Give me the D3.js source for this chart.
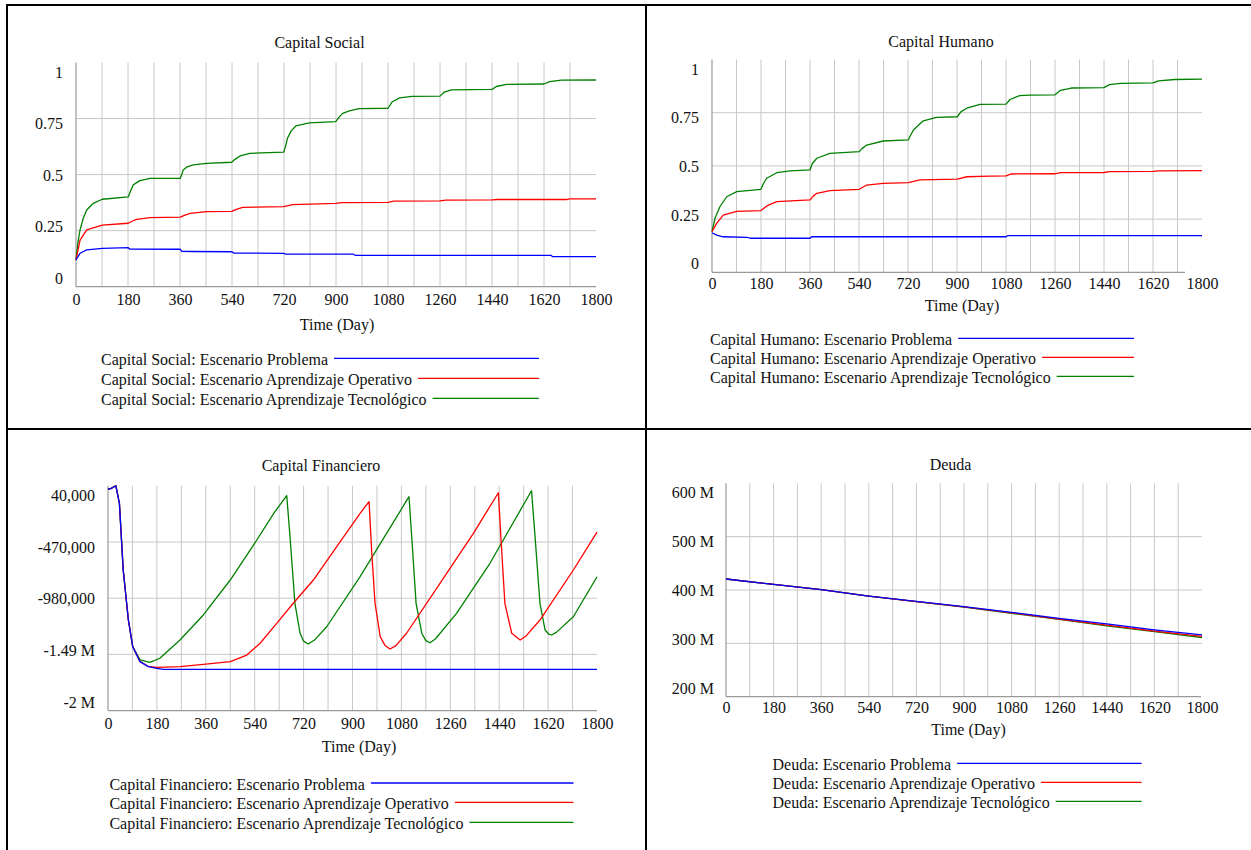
<!DOCTYPE html>
<html>
<head>
<meta charset="utf-8">
<script src="https://cdn.jsdelivr.net/npm/d3@7"></script>
<style>
  html, body { margin: 0; padding: 0; background: #fff; }
  svg text { font-family: "Liberation Serif", "Times New Roman", serif; fill: #111; }
</style>
</head>
<body>
<svg id="chart" width="1251" height="850"></svg>
<script>
// ---------------- DATA ----------------
const xTicks = [0, 180, 360, 540, 720, 900, 1080, 1260, 1440, 1620, 1800];
const gridDays = [90, 180, 270, 360, 450, 540, 630, 720, 810, 900, 990, 1080, 1170, 1260, 1350, 1440, 1530, 1620, 1710];
const scenarioNames = ["Escenario Problema", "Escenario Aprendizaje Operativo", "Escenario Aprendizaje Tecnológico"];
const scenarioColors = ["#0000ff", "#ff0000", "#008000"];

// Capital Social
const socialTicks = [0, 0.25, 0.5, 0.75, 1];
const socialTickLabels = ["0", "0.25", "0.5", "0.75", "1"];
const socialProblema = [[0,0.119],[14,0.149],[37,0.164],[91,0.171],[181,0.174],[186,0.168],[361,0.167],[366,0.158],[406,0.157],[540,0.156],[546,0.150],[719,0.149],[725,0.145],[960,0.145],[966,0.140],[1644,0.140],[1650,0.134],[1800,0.134]];
const socialOperativo = [[0,0.119],[14,0.208],[37,0.253],[91,0.275],[181,0.283],[195,0.293],[210,0.300],[256,0.308],[361,0.310],[375,0.318],[395,0.327],[452,0.335],[539,0.336],[555,0.345],[577,0.354],[719,0.357],[735,0.362],[750,0.366],[899,0.372],[920,0.375],[1080,0.376],[1100,0.382],[1260,0.383],[1280,0.386],[1440,0.387],[1460,0.389],[1700,0.389],[1710,0.392],[1800,0.392]];
const socialTecnologico = [[0,0.119],[7,0.200],[14,0.253],[25,0.305],[37,0.342],[60,0.372],[91,0.390],[181,0.401],[188,0.425],[198,0.454],[221,0.473],[256,0.483],[361,0.483],[366,0.500],[371,0.520],[385,0.535],[406,0.543],[452,0.550],[539,0.555],[550,0.568],[568,0.583],[602,0.595],[719,0.600],[725,0.625],[732,0.662],[745,0.695],[761,0.717],[808,0.731],[899,0.736],[910,0.755],[923,0.773],[946,0.784],[980,0.794],[1080,0.796],[1095,0.825],[1120,0.842],[1163,0.849],[1260,0.850],[1275,0.868],[1300,0.878],[1440,0.880],[1455,0.893],[1490,0.902],[1620,0.904],[1640,0.915],[1680,0.921],[1800,0.922]];

// Capital Humano
const humanoTicks = [0, 0.25, 0.5, 0.75, 1];
const humanoTickLabels = ["0", "0.25", "0.5", "0.75", "1"];
const humanoProblema = [[0,0.186],[17,0.175],[41,0.167],[130,0.164],[140,0.160],[360,0.160],[366,0.167],[1080,0.167],[1086,0.172],[1800,0.172]];
const humanoOperativo = [[0,0.191],[17,0.230],[41,0.269],[91,0.286],[180,0.290],[201,0.312],[238,0.332],[360,0.340],[372,0.358],[385,0.371],[433,0.384],[541,0.390],[568,0.410],[629,0.418],[721,0.421],[764,0.434],[901,0.438],[936,0.449],[1021,0.452],[1080,0.453],[1100,0.462],[1260,0.463],[1280,0.468],[1440,0.469],[1460,0.473],[1620,0.474],[1640,0.477],[1800,0.478]];
const humanoTecnologico = [[0,0.191],[11,0.254],[29,0.308],[54,0.355],[91,0.379],[180,0.390],[188,0.415],[201,0.442],[238,0.468],[287,0.477],[360,0.481],[368,0.510],[385,0.536],[433,0.559],[541,0.567],[550,0.580],[568,0.598],[629,0.617],[721,0.622],[730,0.645],[740,0.669],[776,0.712],[825,0.728],[901,0.731],[915,0.755],[936,0.771],[984,0.789],[1080,0.790],[1095,0.812],[1130,0.830],[1168,0.833],[1260,0.834],[1280,0.855],[1320,0.866],[1440,0.868],[1460,0.882],[1500,0.888],[1620,0.890],[1640,0.900],[1700,0.906],[1800,0.908]];

// Capital Financiero
const finTicks = [-2000000, -1490000, -980000, -470000, 40000];
const finTickLabels = ["-2 M", "-1.49 M", "-980,000", "-470,000", "40,000"];
const finProblema = [[0,11000],[10,15000],[29,40000],[42,-119000],[56,-724000],[75,-1178000],[91,-1420000],[118,-1556000],[148,-1601000],[179,-1616000],[204,-1625000],[1800,-1625000]];
const finOperativo = [[0,11000],[10,15000],[29,40000],[42,-119000],[56,-724000],[75,-1178000],[91,-1420000],[118,-1556000],[148,-1598000],[179,-1607000],[265,-1601000],[351,-1580000],[450,-1556000],[511,-1496000],[560,-1389000],[621,-1208000],[682,-1026000],[756,-815000],[842,-513000],[928,-210000],[961,-104000],[971,-573000],[983,-1026000],[1002,-1329000],[1020,-1410000],[1038,-1441000],[1060,-1410000],[1099,-1298000],[1222,-845000],[1345,-391000],[1437,-23000],[1446,-422000],[1461,-1026000],[1486,-1298000],[1517,-1359000],[1540,-1320000],[1590,-1178000],[1713,-724000],[1800,-380000]];
const finTecnologico = [[0,11000],[10,15000],[29,40000],[42,-119000],[56,-724000],[75,-1178000],[91,-1420000],[118,-1540000],[154,-1562000],[191,-1525000],[265,-1359000],[351,-1132000],[450,-815000],[536,-497000],[610,-210000],[658,-50000],[670,-422000],[688,-1026000],[707,-1298000],[720,-1370000],[737,-1396000],[760,-1360000],[805,-1239000],[928,-785000],[1108,-59000],[1118,-422000],[1134,-1026000],[1155,-1298000],[1170,-1365000],[1185,-1384000],[1205,-1350000],[1283,-1117000],[1406,-663000],[1559,-4500],[1572,-422000],[1590,-1026000],[1609,-1269000],[1622,-1305000],[1633,-1314000],[1650,-1290000],[1713,-1148000],[1800,-785000]];

// Deuda (millions)
const deudaTicks = [200, 300, 400, 500, 600];
const deudaTickLabels = ["200 M", "300 M", "400 M", "500 M", "600 M"];
const deudaProblema = [[0,420.6],[180,410.5],[360,400.6],[540,388.7],[720,378.6],[900,369.0],[1080,358.2],[1260,346.9],[1440,336.4],[1620,325.1],[1800,315.8]];
const deudaOperativo = [[0,420.6],[180,410.5],[360,400.6],[540,388.7],[720,378.4],[900,368.3],[1080,357.2],[1260,345.5],[1440,334.0],[1620,323.0],[1800,313.0]];
const deudaTecnologico = [[0,420.6],[180,410.5],[360,400.6],[540,388.7],[720,378.2],[900,367.8],[1080,356.3],[1260,344.8],[1440,332.8],[1620,321.8],[1800,311.0]];

// ---------------- LAYOUT ----------------
const FONT = 16;
const FAMILY = '"Liberation Serif", "Times New Roman", serif';
const panels = [
  { title: "Capital Social", prefix: "Capital Social", series: [socialProblema, socialOperativo, socialTecnologico],
    ticks: socialTicks, tickLabels: socialTickLabels,
    plot: {x0: 76, x1: 596, y0: 62.5, y1: 286.7}, axisEnd: 596,
    titlePos: [319.5, 42], xLabelPos: [337, 324], xTickY: 302, yLabelRight: 63,
    legend: {x: 101, ys: [359.3, 379.3, 399.3], lineEnd: 539} },
  { title: "Capital Humano", prefix: "Capital Humano", series: [humanoProblema, humanoOperativo, humanoTecnologico],
    ticks: humanoTicks, tickLabels: humanoTickLabels,
    plot: {x0: 712, x1: 1202, y0: 59.5, y1: 272.3}, axisEnd: 1185,
    titlePos: [941, 41.7], xLabelPos: [962, 305], xTickY: 286.7, yLabelRight: 699,
    legend: {x: 710, ys: [339.3, 358.3, 377.3], lineEnd: 1134} },
  { title: "Capital Financiero", prefix: "Capital Financiero", series: [finProblema, finOperativo, finTecnologico],
    ticks: finTicks, tickLabels: finTickLabels,
    plot: {x0: 108, x1: 597, y0: 485.8, y1: 710.6}, axisEnd: 597,
    titlePos: [321, 465.7], xLabelPos: [359, 746.7], xTickY: 726.7, yLabelRight: 95,
    legend: {x: 109.4, ys: [784, 803.3, 823.3], lineEnd: 573.5} },
  { title: "Deuda", prefix: "Deuda", series: [deudaProblema, deudaOperativo, deudaTecnologico],
    ticks: deudaTicks, tickLabels: deudaTickLabels,
    plot: {x0: 726, x1: 1202, y0: 483.3, y1: 696.7}, axisEnd: 1201,
    titlePos: [950.6, 464.3], xLabelPos: [968.5, 729], xTickY: 710, yLabelRight: 714,
    legend: {x: 772.5, ys: [764.3, 783.3, 802.3], lineEnd: 1141.6} }
];

const svg = d3.select("#chart");

// table borders
const borders = svg.append("g").attr("stroke", "#000").attr("stroke-width", 2);
borders.append("line").attr("x1", 7).attr("x2", 7).attr("y1", 5).attr("y2", 850);
borders.append("line").attr("x1", 6).attr("x2", 1251).attr("y1", 5).attr("y2", 5);
borders.append("line").attr("x1", 646).attr("x2", 646).attr("y1", 5).attr("y2", 850);
borders.append("line").attr("x1", 6).attr("x2", 1251).attr("y1", 429).attr("y2", 429);

panels.forEach(p => {
  const g = svg.append("g");
  const x = d3.scaleLinear().domain([0, 1800]).range([p.plot.x0, p.plot.x1]);
  const y = d3.scaleLinear().domain([p.ticks[0], p.ticks[p.ticks.length - 1]]).range([p.plot.y1, p.plot.y0]);
  // label scale: labels spread slightly inside the plot range (Vensim style)
  const yLab = d3.scaleLinear().domain(y.domain()).range([p.plot.y1 - 9, p.plot.y0 + 9]);

  // gridlines
  g.append("g").selectAll("line").data(gridDays).join("line")
    .attr("x1", d => x(d)).attr("x2", d => x(d))
    .attr("y1", p.plot.y0).attr("y2", p.plot.y1)
    .attr("stroke", "#c8c8c8").attr("stroke-width", 1);
  g.append("g").selectAll("line").data(p.ticks.slice(1, -1)).join("line")
    .attr("x1", p.plot.x0).attr("x2", p.plot.x1)
    .attr("y1", d => y(d)).attr("y2", d => y(d))
    .attr("stroke", "#c8c8c8").attr("stroke-width", 1);

  // axis lines
  g.append("line").attr("x1", p.plot.x0).attr("x2", p.plot.x0).attr("y1", p.plot.y0).attr("y2", p.plot.y1)
    .attr("stroke", "#9a9a9a").attr("stroke-width", 1.2);
  g.append("line").attr("x1", p.plot.x0).attr("x2", p.axisEnd).attr("y1", p.plot.y1).attr("y2", p.plot.y1)
    .attr("stroke", "#9a9a9a").attr("stroke-width", 1.2);

  // x tick labels via axis
  const xa = g.append("g").attr("transform", `translate(0,${p.xTickY - FONT * 0.35 - 3})`)
    .call(d3.axisBottom(x).tickValues(xTicks).tickSize(0).tickPadding(0).tickFormat(d3.format("d")))
    .attr("font-family", FAMILY).attr("font-size", FONT);
  xa.select(".domain").remove();
  xa.selectAll("text").attr("dy", "0.71em").attr("y", 0).attr("fill", "#111");

  // y tick labels via axis
  const ya = g.append("g").attr("transform", `translate(${p.yLabelRight},0)`)
    .call(d3.axisLeft(yLab).tickValues(p.ticks).tickSize(0).tickPadding(0)
      .tickFormat((d, i) => p.tickLabels[i]))
    .attr("font-family", FAMILY).attr("font-size", FONT);
  ya.select(".domain").remove();
  ya.selectAll("text").attr("dy", "0.35em").attr("fill", "#111");

  // lines (blue on top)
  const line = d3.line().x(d => x(d[0])).y(d => y(d[1]));
  [2, 1, 0].forEach(i => {
    g.append("path").datum(p.series[i]).attr("d", line)
      .attr("fill", "none").attr("stroke", scenarioColors[i]).attr("stroke-width", 1.3)
      .attr("stroke-linejoin", "round");
  });

  // title & axis label
  g.append("text").attr("x", p.titlePos[0]).attr("y", p.titlePos[1]).attr("dy", "0.35em")
    .attr("text-anchor", "middle").attr("font-size", FONT).text(p.title);
  g.append("text").attr("x", p.xLabelPos[0]).attr("y", p.xLabelPos[1]).attr("dy", "0.35em")
    .attr("text-anchor", "middle").attr("font-size", FONT).text("Time (Day)");

  // legend
  scenarioNames.forEach((name, i) => {
    const t = g.append("text").attr("x", p.legend.x).attr("y", p.legend.ys[i]).attr("dy", "0.35em")
      .attr("font-size", FONT).text(p.prefix + ": " + name);
    const w = t.node().getComputedTextLength();
    g.append("line").attr("x1", p.legend.x + w + 6).attr("x2", p.legend.lineEnd)
      .attr("y1", p.legend.ys[i] - 1).attr("y2", p.legend.ys[i] - 1)
      .attr("stroke", scenarioColors[i]).attr("stroke-width", 1.3);
  });
});
</script>
</body>
</html>
